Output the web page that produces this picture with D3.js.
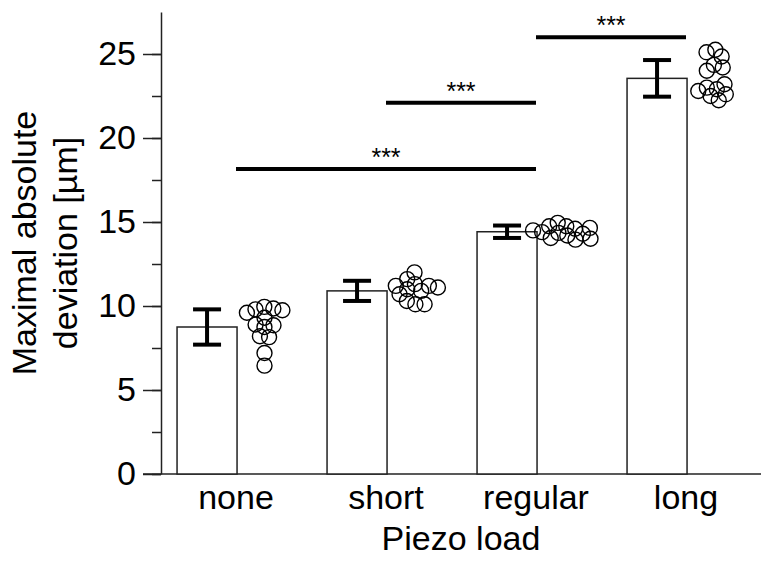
<!DOCTYPE html>
<html>
<head>
<meta charset="utf-8">
<script src="https://cdn.jsdelivr.net/npm/d3@7"></script>
<style>
  body { margin: 0; background: #fff; }
  text { font-family: "Liberation Sans", Arial, sans-serif; fill: #000; }
</style>
</head>
<body>
<script>
// data
const categories = ["none", "short", "regular", "long"];
const means  = [8.75, 10.9, 14.42, 23.55];
const errors = [1.05, 0.6, 0.37, 1.09];

// single measurements per group
const noneVals    = [9.95, 9.85, 9.8, 9.75, 9.6, 9.3, 8.9, 8.85, 8.75, 8.2, 8.15, 7.2, 6.45];
const shortVals   = [12.0, 11.6, 11.3, 11.2, 11.2, 11.1, 11.0, 10.9, 10.7, 10.3, 10.1, 10.1];
const regularVals = [14.95, 14.75, 14.75, 14.65, 14.6, 14.5, 14.4, 14.35, 14.3, 14.2, 14.05, 14.0, 13.95];
const longVals    = [25.25, 25.1, 24.85, 24.35, 24.2, 24.0, 23.2, 23.0, 22.9, 22.8, 22.6, 22.5, 22.25];
const groupVals = [noneVals, shortVals, regularVals, longVals];

// significance brackets
const sigFrom  = ["none", "short", "regular"];
const sigTo    = ["regular", "regular", "long"];
const sigLevel = [18.15, 22.1, 26.0];
const sigLabel = ["***", "***", "***"];

const yTicks = [0, 5, 10, 15, 20, 25];

const W = 776, H = 562;
const FS = "34px";
const svg = d3.select("body").append("svg").attr("width", W).attr("height", H);

const x = d3.scaleBand().domain(categories).range([161, 761]);
const y = d3.scaleLinear().domain([0, 27.5]).range([474, 12]);
const bw = x.bandwidth();
const mid = c => x(c) + bw / 2;

// minor ticks
svg.append("g")
  .attr("transform", "translate(161,0)")
  .call(d3.axisLeft(y).tickValues(d3.range(0, 27.5, 2.5)).tickSize(9).tickSizeOuter(0).tickFormat(""))
  .call(g => g.selectAll("line,path").attr("stroke", "#222").attr("stroke-width", 1.5));

// major ticks + labels
svg.append("g")
  .attr("transform", "translate(161,0)")
  .call(d3.axisLeft(y).tickValues(yTicks).tickSize(18).tickSizeOuter(0).tickPadding(7))
  .call(g => g.select(".domain").remove())
  .call(g => g.selectAll("line").attr("stroke", "#222").attr("stroke-width", 1.5))
  .call(g => g.selectAll("text").style("font-size", FS).style("font-family", "'Liberation Sans', Arial, sans-serif"));

// baseline
svg.append("line")
  .attr("x1", 143).attr("x2", 761)
  .attr("y1", y(0)).attr("y2", y(0))
  .attr("stroke", "#222").attr("stroke-width", 1.5);

// x labels
svg.append("g")
  .attr("transform", `translate(0,${y(0)})`)
  .call(d3.axisBottom(x).tickSize(0).tickPadding(11))
  .call(g => g.select(".domain").remove())
  .call(g => g.selectAll("text").style("font-size", FS).style("font-family", "'Liberation Sans', Arial, sans-serif"));

// bars
const barW = bw * 0.4;
svg.selectAll(".bar")
  .data(categories)
  .enter().append("rect")
    .attr("class", "bar")
    .attr("x", c => x(c) + bw * 0.107)
    .attr("y", (c, i) => y(means[i]))
    .attr("width", barW)
    .attr("height", (c, i) => y(0) - y(means[i]))
    .attr("fill", "#fff")
    .attr("stroke", "#222")
    .attr("stroke-width", 1.5);

// error bars
const capW = 28;
categories.forEach((c, i) => {
  const cx = x(c) + bw * 0.107 + barW / 2;
  const lo = y(means[i] - errors[i]), hi = y(means[i] + errors[i]);
  const g = svg.append("g").attr("stroke", "#000").attr("stroke-width", 4);
  g.append("line").attr("x1", cx).attr("x2", cx).attr("y1", lo).attr("y2", hi);
  g.append("line").attr("x1", cx - capW / 2).attr("x2", cx + capW / 2).attr("y1", lo).attr("y2", lo);
  g.append("line").attr("x1", cx - capW / 2).attr("x2", cx + capW / 2).attr("y1", hi).attr("y2", hi);
});

// dots, laid out as a loose swarm
const nodes = [];
categories.forEach((c, i) => {
  groupVals[i].forEach(v => nodes.push({ cat: c, v: v, tx: x(c) + bw * 0.69, fy: y(v) }));
});
const sim = d3.forceSimulation(nodes)
  .force("x", d3.forceX(d => d.tx).strength(0.08))
  .force("collide", d3.forceCollide(4.6))
  .stop();
nodes.forEach(d => { d.x = d.tx; });
for (let k = 0; k < 300; k++) sim.tick();

svg.selectAll(".dot")
  .data(nodes)
  .enter().append("circle")
    .attr("class", "dot")
    .attr("cx", d => d.x)
    .attr("cy", d => y(d.v))
    .attr("r", 7.5)
    .attr("fill", "none")
    .attr("stroke", "#000")
    .attr("stroke-width", 1.4);

// significance lines
sigFrom.forEach((f, i) => {
  const x1 = mid(f), x2 = mid(sigTo[i]), ly = y(sigLevel[i]);
  svg.append("line")
    .attr("x1", x1).attr("x2", x2).attr("y1", ly).attr("y2", ly)
    .attr("stroke", "#000").attr("stroke-width", 4);
  svg.append("text")
    .attr("x", (x1 + x2) / 2).attr("y", ly - 3)
    .attr("text-anchor", "middle")
    .style("font-size", "25px")
    .text(sigLabel[i]);
});

// axis titles
svg.append("text")
  .attr("x", 461).attr("y", 550)
  .attr("text-anchor", "middle")
  .style("font-size", FS)
  .text("Piezo load");

svg.append("text")
  .attr("transform", "translate(36,243) rotate(-90)")
  .attr("text-anchor", "middle")
  .style("font-size", FS)
  .text("Maximal absolute");
svg.append("text")
  .attr("transform", "translate(77,243) rotate(-90)")
  .attr("text-anchor", "middle")
  .style("font-size", FS)
  .text("deviation [µm]");
</script>
</body>
</html>
